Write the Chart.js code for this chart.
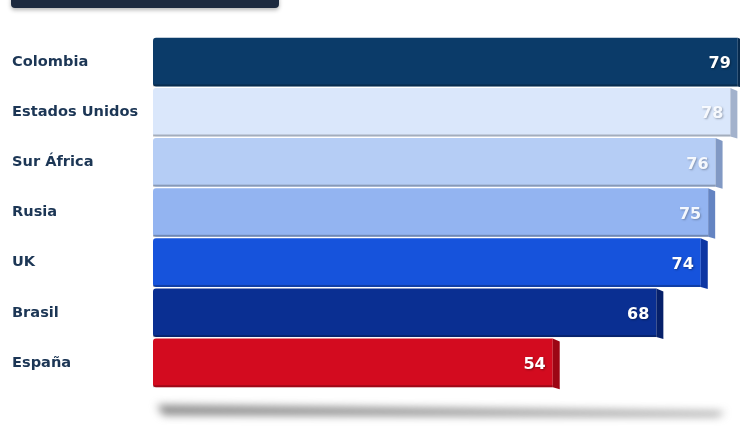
<!DOCTYPE html>
<html>
<head>
<meta charset="utf-8">
<script src="https://cdn.jsdelivr.net/npm/chart.js@4"></script>
<style>
  html, body { margin: 0; padding: 0; background: #ffffff; }
  #wrap { position: relative; width: 740px; height: 427px; }
</style>
</head>
<body>
<div id="wrap"><canvas id="chart"></canvas></div>
<script>
// Datos
const paises = ['Colombia', 'Estados Unidos', 'Sur África', 'Rusia', 'UK', 'Brasil', 'España'];
const valores = [79, 78, 76, 75, 74, 68, 54];
const coloresFrente = ['#0b3b69', '#dae7fb', '#b5cdf5', '#93b4f1', '#1653dc', '#0a2f92', '#d30b1f'];
const coloresLado = ['#072a4d', '#a3b2cc', '#8199c4', '#6484c2', '#0d36a3', '#06206a', '#9c0614'];

// Cara lateral, etiquetas de valor y sombras
const decoracion = {
    id: 'decoracion',
    beforeDraw(chart) {
        const ctx = chart.ctx;
        // barra oscura superior
        ctx.save();
        ctx.shadowColor = 'rgba(0,0,0,0.3)';
        ctx.shadowBlur = 4;
        ctx.shadowOffsetY = 2;
        ctx.fillStyle = '#1d2a3f';
        ctx.beginPath();
        ctx.roundRect(11, -6, 268, 14, 4);
        ctx.fill();
        ctx.restore();

        // sombra en el suelo
        const area = chart.chartArea;
        ctx.save();
        ctx.filter = 'blur(4px)';
        ctx.fillStyle = 'rgba(105,105,105,0.8)';
        ctx.beginPath();
        ctx.moveTo(area.left + 4, area.bottom + 17);
        ctx.lineTo(area.right - 15, area.bottom + 24);
        ctx.lineTo(area.right - 22, area.bottom + 28);
        ctx.lineTo(area.left + 10, area.bottom + 27);
        ctx.closePath();
        ctx.fill();
        ctx.restore();
    },
    afterDatasetsDraw(chart) {
        const ctx = chart.ctx;
        const meta = chart.getDatasetMeta(0);
        meta.data.forEach((bar, i) => {
            const top = bar.y - bar.height / 2;
            const bottom = bar.y + bar.height / 2;
            // lado derecho
            ctx.save();
            ctx.fillStyle = coloresLado[i];
            ctx.beginPath();
            ctx.moveTo(bar.x, top);
            ctx.lineTo(bar.x + 7, top + 3);
            ctx.lineTo(bar.x + 7, bottom + 2);
            ctx.lineTo(bar.x, bottom);
            ctx.closePath();
            ctx.fill();
            // borde inferior
            ctx.fillStyle = 'rgba(0,0,0,0.25)';
            ctx.fillRect(bar.base, bottom - 2, bar.x - bar.base, 2);
            ctx.restore();

            // valor
            const claro = i >= 1 && i <= 3;
            ctx.save();
            ctx.font = 'bold 16px "DejaVu Sans"';
            ctx.textAlign = 'right';
            ctx.textBaseline = 'middle';
            ctx.shadowColor = claro ? 'rgba(60,70,90,0.45)' : 'rgba(0,0,0,0.35)';
            ctx.shadowBlur = 2;
            ctx.shadowOffsetX = 1;
            ctx.shadowOffsetY = 1;
            ctx.fillStyle = claro ? 'rgba(250,252,255,0.95)' : '#ffffff';
            ctx.fillText(String(valores[i]), bar.x - 7, bar.y + 2);
            ctx.restore();
        });
    }
};

new Chart(document.getElementById('chart'), {
    type: 'bar',
    data: {
        labels: paises,
        datasets: [{
            data: valores,
            backgroundColor: coloresFrente,
            borderWidth: 0,
            borderRadius: { topLeft: 3, bottomLeft: 3 },
            borderSkipped: false,
            barPercentage: 0.97,
            categoryPercentage: 1
        }]
    },
    options: {
        indexAxis: 'y',
        responsive: true,
        maintainAspectRatio: false,
        animation: false,
        layout: { padding: { left: 12, right: 0, top: 37, bottom: 39 } },
        plugins: {
            legend: { display: false },
            tooltip: { enabled: false }
        },
        scales: {
            x: {
                display: false,
                min: 0,
                max: 79.3
            },
            y: {
                grid: { display: false },
                border: { display: false },
                afterFit(scale) { scale.width = 141; },
                ticks: {
                    crossAlign: 'far',
                    padding: 0,
                    color: '#1c3655',
                    font: { family: 'DejaVu Sans', size: 14.6, weight: 'bold' }
                }
            }
        }
    },
    plugins: [decoracion]
});
</script>
</body>
</html>
